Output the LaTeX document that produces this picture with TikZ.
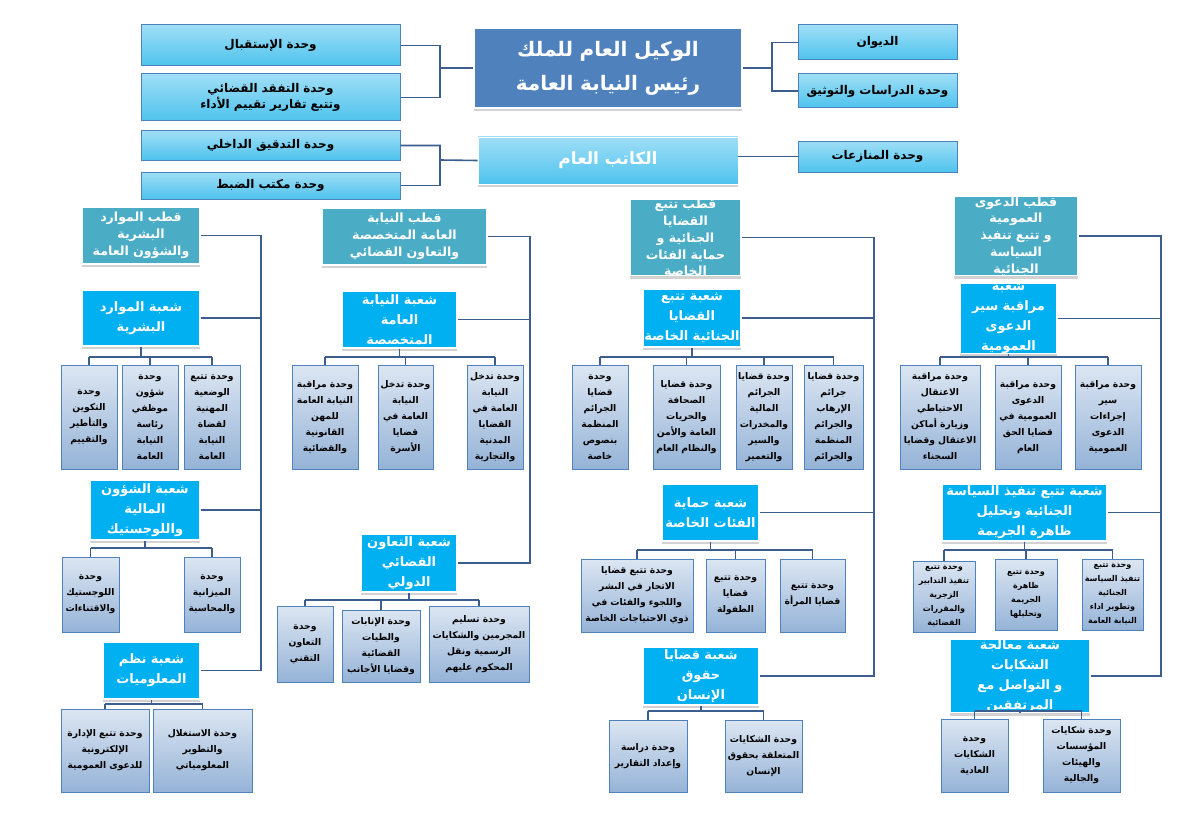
\documentclass[tikz,border=0pt]{standalone}
\usepackage{fontspec}
\usetikzlibrary{shadows}
\TeXXeTstate=1
\newfontfamily\arf[Script=Arabic]{DejaVu Sans}
\newcommand\ar[1]{\beginR #1\endR}
\newcommand\bx[7]{\pgfmathsetmacro\bw{(#4-#2)*0.5}\pgfmathsetmacro\bh{(#5-#3)*0.5}\pgfmathsetmacro\tw{(#4-#2)*0.5-1}%
 \node[#6,minimum width=\bw pt,minimum height=\bh pt,text width=\tw pt] (#1) at ({(#2+#4)/2},{(#3+#5)/2}) {#7};}
\newcommand\bus[5]{\coordinate (bb) at (0,#2);
 \draw[ln] (#1.south) -- (#1.south |- bb);
 \draw[ln] (#3.north |- bb) -- (#4.north |- bb);
 \foreach \u in {#5}{\draw[ln] (\u.north) -- (\u.north |- bb);}}
\definecolor{mainb}{HTML}{4F81BD}
\definecolor{cyt}{HTML}{9FDEF6}
\definecolor{cyb}{HTML}{4EC3EE}
\definecolor{teal}{HTML}{4BACC6}
\definecolor{br}{HTML}{00B0F0}
\definecolor{unt}{HTML}{DCE6F2}
\definecolor{unb}{HTML}{95B3D7}
\definecolor{lnc}{HTML}{3B5E8F}
\begin{document}
\begin{tikzpicture}[x=0.5pt,y=-0.5pt,
 every node/.style={inner sep=0pt,align=center},
 ln/.style={draw=lnc,line width=0.8pt},
 sh/.style={drop shadow={shadow xshift=0pt,shadow yshift=-1.6pt,fill=black!35}},
 mainbox/.style={fill=mainb,draw=white,line width=0.6pt,text=white,font=\arf\bfseries\fontsize{10}{17}\selectfont,sh},
 cybox/.style={top color=cyt,bottom color=cyb,draw=mainb,line width=0.5pt,font=\arf\bfseries\fontsize{6}{8}\selectfont},
 katibbox/.style={top color=cyt,bottom color=cyb,draw=white,text=white,font=\arf\bfseries\fontsize{8.5}{10}\selectfont,sh},
 pole/.style={fill=teal,draw=white,line width=0.6pt,text=white,font=\arf\bfseries\fontsize{6.3}{8.4}\selectfont,sh},
 shoba/.style={fill=br,draw=white,line width=0.6pt,text=white,font=\arf\bfseries\fontsize{6.5}{10}\selectfont,sh},
 unit/.style={top color=unt,bottom color=unb,draw=mainb,line width=0.5pt,font=\arf\bfseries\fontsize{4.6}{8}\selectfont},
 unitsm/.style={unit,font=\arf\bfseries\fontsize{4}{7}\selectfont}]
\useasboundingbox (0,0) rectangle (1188,840);
% top
\bx{main}{474}{28}{742}{108}{mainbox}{\ar{الوكيل العام للملك}\\\ar{رئيس النيابة العامة}}
\bx{istiqbal}{141}{25}{400}{66}{cybox}{\ar{وحدة الإستقبال}}
\bx{tafaqud}{141}{74}{400}{121}{cybox}{\ar{وحدة التفقد القضائي وتتبع تقارير تقييم الأداء}}
\bx{diwan}{798}{25}{957}{60}{cybox}{\ar{الديوان}}
\bx{dirasat}{798}{74}{957}{108}{cybox}{\ar{وحدة الدراسات والتوثيق}}
\bx{katib}{478}{137}{738}{184}{katibbox}{\ar{الكاتب العام}}
\bx{tadqiq}{141}{131}{400}{160}{cybox}{\ar{وحدة التدقيق الداخلي}}
\bx{dabt}{141}{172}{400}{199}{cybox}{\ar{وحدة مكتب الضبط}}
\bx{munaz}{798}{141}{957}{172}{cybox}{\ar{وحدة المنازعات}}
\coordinate (cl) at (440,68); \coordinate (cr) at (772,68); \coordinate (ck) at (440,160);
\draw[ln] (istiqbal.east) -| (cl) -- (main.west);
\draw[ln] (tafaqud.east) -| (cl);
\draw[ln] (diwan.west) -| (cr) -- (main.east);
\draw[ln] (dirasat.west) -| (cr);
\draw[ln] (tadqiq.east) -| (ck) -- (katib.west);
\draw[ln] (dabt.east) -| (ck);
\draw[ln] (munaz.west) -- (munaz.west -| katib.east);
% ===== pole 1
\bx{p1}{82}{207}{200}{264}{pole}{\ar{قطب الموارد البشرية}\\\ar{والشؤون العامة}}
\bx{s11}{82}{290}{200}{346}{shoba}{\ar{شعبة الموارد}\\\ar{البشرية}}
\bx{u111}{61}{365}{117}{469}{unit}{\ar{وحدة}\\\ar{التكوين}\\\ar{والتأطير}\\\ar{والتقييم}}
\bx{u112}{122}{365}{178}{469}{unit}{\ar{وحدة}\\\ar{شؤون}\\\ar{موظفي}\\\ar{رئاسة}\\\ar{النيابة}\\\ar{العامة}}
\bx{u113}{184}{365}{240}{469}{unit}{\ar{وحدة تتبع}\\\ar{الوضعية}\\\ar{المهنية}\\\ar{لقضاة}\\\ar{النيابة}\\\ar{العامة}}
\bus{s11}{357}{u111}{u113}{u111,u112,u113}
\bx{s12}{90}{480}{200}{540}{shoba}{\ar{شعبة الشؤون}\\\ar{المالية واللوجستيك}}
\bx{u121}{62}{557}{119}{632}{unit}{\ar{وحدة}\\\ar{اللوجستيك}\\\ar{والاقتناءات}}
\bx{u122}{184}{557}{240}{632}{unit}{\ar{وحدة}\\\ar{الميزانية}\\\ar{والمحاسبة}}
\bus{s12}{548}{u121}{u122}{u121,u122}
\bx{s13}{103}{642}{200}{699}{shoba}{\ar{شعبة نظم}\\\ar{المعلوميات}}
\bx{u131}{61}{709}{149}{792}{unit}{\ar{وحدة تتبع الإدارة}\\\ar{الإلكترونية}\\\ar{للدعوى العمومية}}
\bx{u132}{153}{709}{252}{792}{unit}{\ar{وحدة الاستغلال}\\\ar{والتطوير}\\\ar{المعلومياتي}}
\bus{s13}{704}{u131}{u132}{u131,u132}
\coordinate (c1) at (261,0);
\draw[ln] (p1.east) -- (p1.east -| c1) -- (s13.east -| c1) -- (s13.east);
\draw[ln] (s11.east) -- (s11.east -| c1);
\draw[ln] (s12.east) -- (s12.east -| c1);
% ===== pole 2
\bx{p2}{322}{208}{487}{265}{pole}{\ar{قطب النيابة العامة المتخصصة}\\\ar{والتعاون القضائي}}
\bx{s21}{342}{291}{457}{348}{shoba}{\ar{شعبة النيابة العامة}\\\ar{المتخصصة}}
\bx{u211}{292}{365}{358}{469}{unit}{\ar{وحدة مراقبة}\\\ar{النيابة العامة}\\\ar{للمهن}\\\ar{القانونية}\\\ar{والقضائية}}
\bx{u212}{378}{365}{433}{469}{unit}{\ar{وحدة تدخل}\\\ar{النيابة}\\\ar{العامة في}\\\ar{قضايا}\\\ar{الأسرة}}
\bx{u213}{467}{365}{523}{469}{unit}{\ar{وحدة تدخل}\\\ar{النيابة}\\\ar{العامة في}\\\ar{القضايا}\\\ar{المدنية}\\\ar{والتجارية}}
\bus{s21}{357}{u211}{u213}{u211,u212,u213}
\bx{s22}{361}{534}{457}{592}{shoba}{\ar{شعبة التعاون}\\\ar{القضائي الدولي}}
\bx{u221}{277}{606}{333}{682}{unit}{\ar{وحدة}\\\ar{التعاون}\\\ar{التقني}}
\bx{u222}{342}{610}{420}{682}{unit}{\ar{وحدة الإنابات}\\\ar{والطيات}\\\ar{القضائية}\\\ar{وقضايا الأجانب}}
\bx{u223}{429}{606}{529}{682}{unit}{\ar{وحدة تسليم}\\\ar{المجرمين والشكايات}\\\ar{الرسمية ونقل}\\\ar{المحكوم عليهم}}
\bus{s22}{600}{u221}{u223}{u221,u222,u223}
\coordinate (c2) at (530,0);
\draw[ln] (p2.east) -- (p2.east -| c2) -- (s22.east -| c2) -- (s22.east);
\draw[ln] (s21.east) -- (s21.east -| c2);
% ===== pole 3
\bx{p3}{630}{207}{741}{268}{pole}{\ar{قطب تتبع القضايا}\\\ar{الجنائية و حماية الفئات}\\\ar{الخاصة}}
\bx{s31}{643}{289}{741}{347}{shoba}{\ar{شعبة تتبع القضايا}\\\ar{الجنائية الخاصة}}
\bx{u311}{572}{365}{628}{469}{unit}{\ar{وحدة}\\\ar{قضايا}\\\ar{الجرائم}\\\ar{المنظمة}\\\ar{بنصوص}\\\ar{خاصة}}
\bx{u312}{653}{365}{720}{469}{unit}{\ar{وحدة قضايا}\\\ar{الصحافة}\\\ar{والحريات}\\\ar{العامة والأمن}\\\ar{والنظام العام}}
\bx{u313}{736}{365}{792}{469}{unit}{\ar{وحدة قضايا}\\\ar{الجرائم}\\\ar{المالية}\\\ar{والمخدرات}\\\ar{والسير}\\\ar{والتعمير}}
\bx{u314}{804}{365}{863}{469}{unit}{\ar{وحدة قضايا}\\\ar{جرائم}\\\ar{الإرهاب}\\\ar{والجرائم}\\\ar{المنظمة}\\\ar{والجرائم}}
\bus{s31}{357}{u311}{u314}{u311,u312,u313,u314}
\bx{s32}{662}{484}{759}{541}{shoba}{\ar{شعبة حماية}\\\ar{الفئات الخاصة}}
\bx{u321}{581}{559}{693}{632}{unit}{\ar{وحدة تتبع قضايا}\\\ar{الاتجار في البشر}\\\ar{واللجوء والفئات في}\\\ar{ذوي الاحتياجات الخاصة}}
\bx{u322}{706}{559}{765}{632}{unit}{\ar{وحدة تتبع}\\\ar{قضايا}\\\ar{الطفولة}}
\bx{u323}{780}{559}{845}{632}{unit}{\ar{وحدة تتبع}\\\ar{قضايا المرأة}}
\bus{s32}{550}{u321}{u323}{u321,u322,u323}
\bx{s33}{643}{647}{759}{705}{shoba}{\ar{شعبة قضايا حقوق}\\\ar{الإنسان}}
\bx{u331}{609}{720}{687}{792}{unit}{\ar{وحدة دراسة}\\\ar{وإعداد التقارير}}
\bx{u332}{725}{720}{802}{792}{unit}{\ar{وحدة الشكايات}\\\ar{المتعلقة بحقوق}\\\ar{الإنسان}}
\bus{s33}{711}{u331}{u332}{u331,u332}
\coordinate (c3) at (874,0);
\draw[ln] (p3.east) -- (p3.east -| c3) -- (s33.east -| c3) -- (s33.east);
\draw[ln] (s31.east) -- (s31.east -| c3);
\draw[ln] (s32.east) -- (s32.east -| c3);
% ===== pole 4
\bx{p4}{954}{207}{1078}{265}{pole}{\ar{قطب الدعوى العمومية}\\\ar{و تتبع تنفيذ السياسة}\\\ar{الجنائية}}
\bx{s41}{960}{290}{1057}{347}{shoba}{\ar{شعبة مراقبة سير}\\\ar{الدعوى العمومية}}
\bx{u411}{900}{365}{980}{469}{unit}{\ar{وحدة مراقبة}\\\ar{الاعتقال}\\\ar{الاحتياطي}\\\ar{وزيارة أماكن}\\\ar{الاعتقال وقضايا}\\\ar{السجناء}}
\bx{u412}{995}{365}{1061}{469}{unit}{\ar{وحدة مراقبة}\\\ar{الدعوى}\\\ar{العمومية في}\\\ar{قضايا الحق}\\\ar{العام}}
\bx{u413}{1075}{365}{1141}{469}{unit}{\ar{وحدة مراقبة}\\\ar{سير}\\\ar{إجراءات}\\\ar{الدعوى}\\\ar{العمومية}}
\bus{s41}{357}{u411}{u413}{u411,u412,u413}
\bx{s42}{942}{484}{1107}{541}{shoba}{\ar{شعبة تتبع تنفيذ السياسة}\\\ar{الجنائية وتحليل ظاهرة الجريمة}}
\bx{u421}{913}{561}{975}{632}{unitsm}{\ar{وحدة تتبع}\\\ar{تنفيذ التدابير}\\\ar{الزجرية}\\\ar{والمقررات}\\\ar{القضائية}}
\bx{u422}{995}{559}{1057}{630}{unitsm}{\ar{وحدة تتبع}\\\ar{ظاهرة}\\\ar{الجريمة}\\\ar{وتحليلها}}
\bx{u423}{1082}{559}{1143}{630}{unitsm}{\ar{وحدة تتبع}\\\ar{تنفيذ السياسة}\\\ar{الجنائية}\\\ar{وتطوير اداء}\\\ar{النيابة العامة}}
\bus{s42}{550}{u421}{u423}{u421,u422,u423}
\bx{s43}{950}{647}{1090}{705}{shoba}{\ar{شعبة معالجة الشكايات}\\\ar{و التواصل مع المرتفقين}}
\bx{u431}{941}{719}{1008}{792}{unit}{\ar{وحدة}\\\ar{الشكايات}\\\ar{العادية}}
\bx{u432}{1043}{719}{1120}{792}{unit}{\ar{وحدة شكايات}\\\ar{المؤسسات}\\\ar{والهيئات}\\\ar{والجالية}}
\bus{s43}{711}{u431}{u432}{u431,u432}
\coordinate (c4) at (1161,0);
\draw[ln] (p4.east) -- (p4.east -| c4) -- (s43.east -| c4) -- (s43.east);
\draw[ln] (s41.east) -- (s41.east -| c4);
\draw[ln] (s42.east) -- (s42.east -| c4);
\end{tikzpicture}
\end{document}
